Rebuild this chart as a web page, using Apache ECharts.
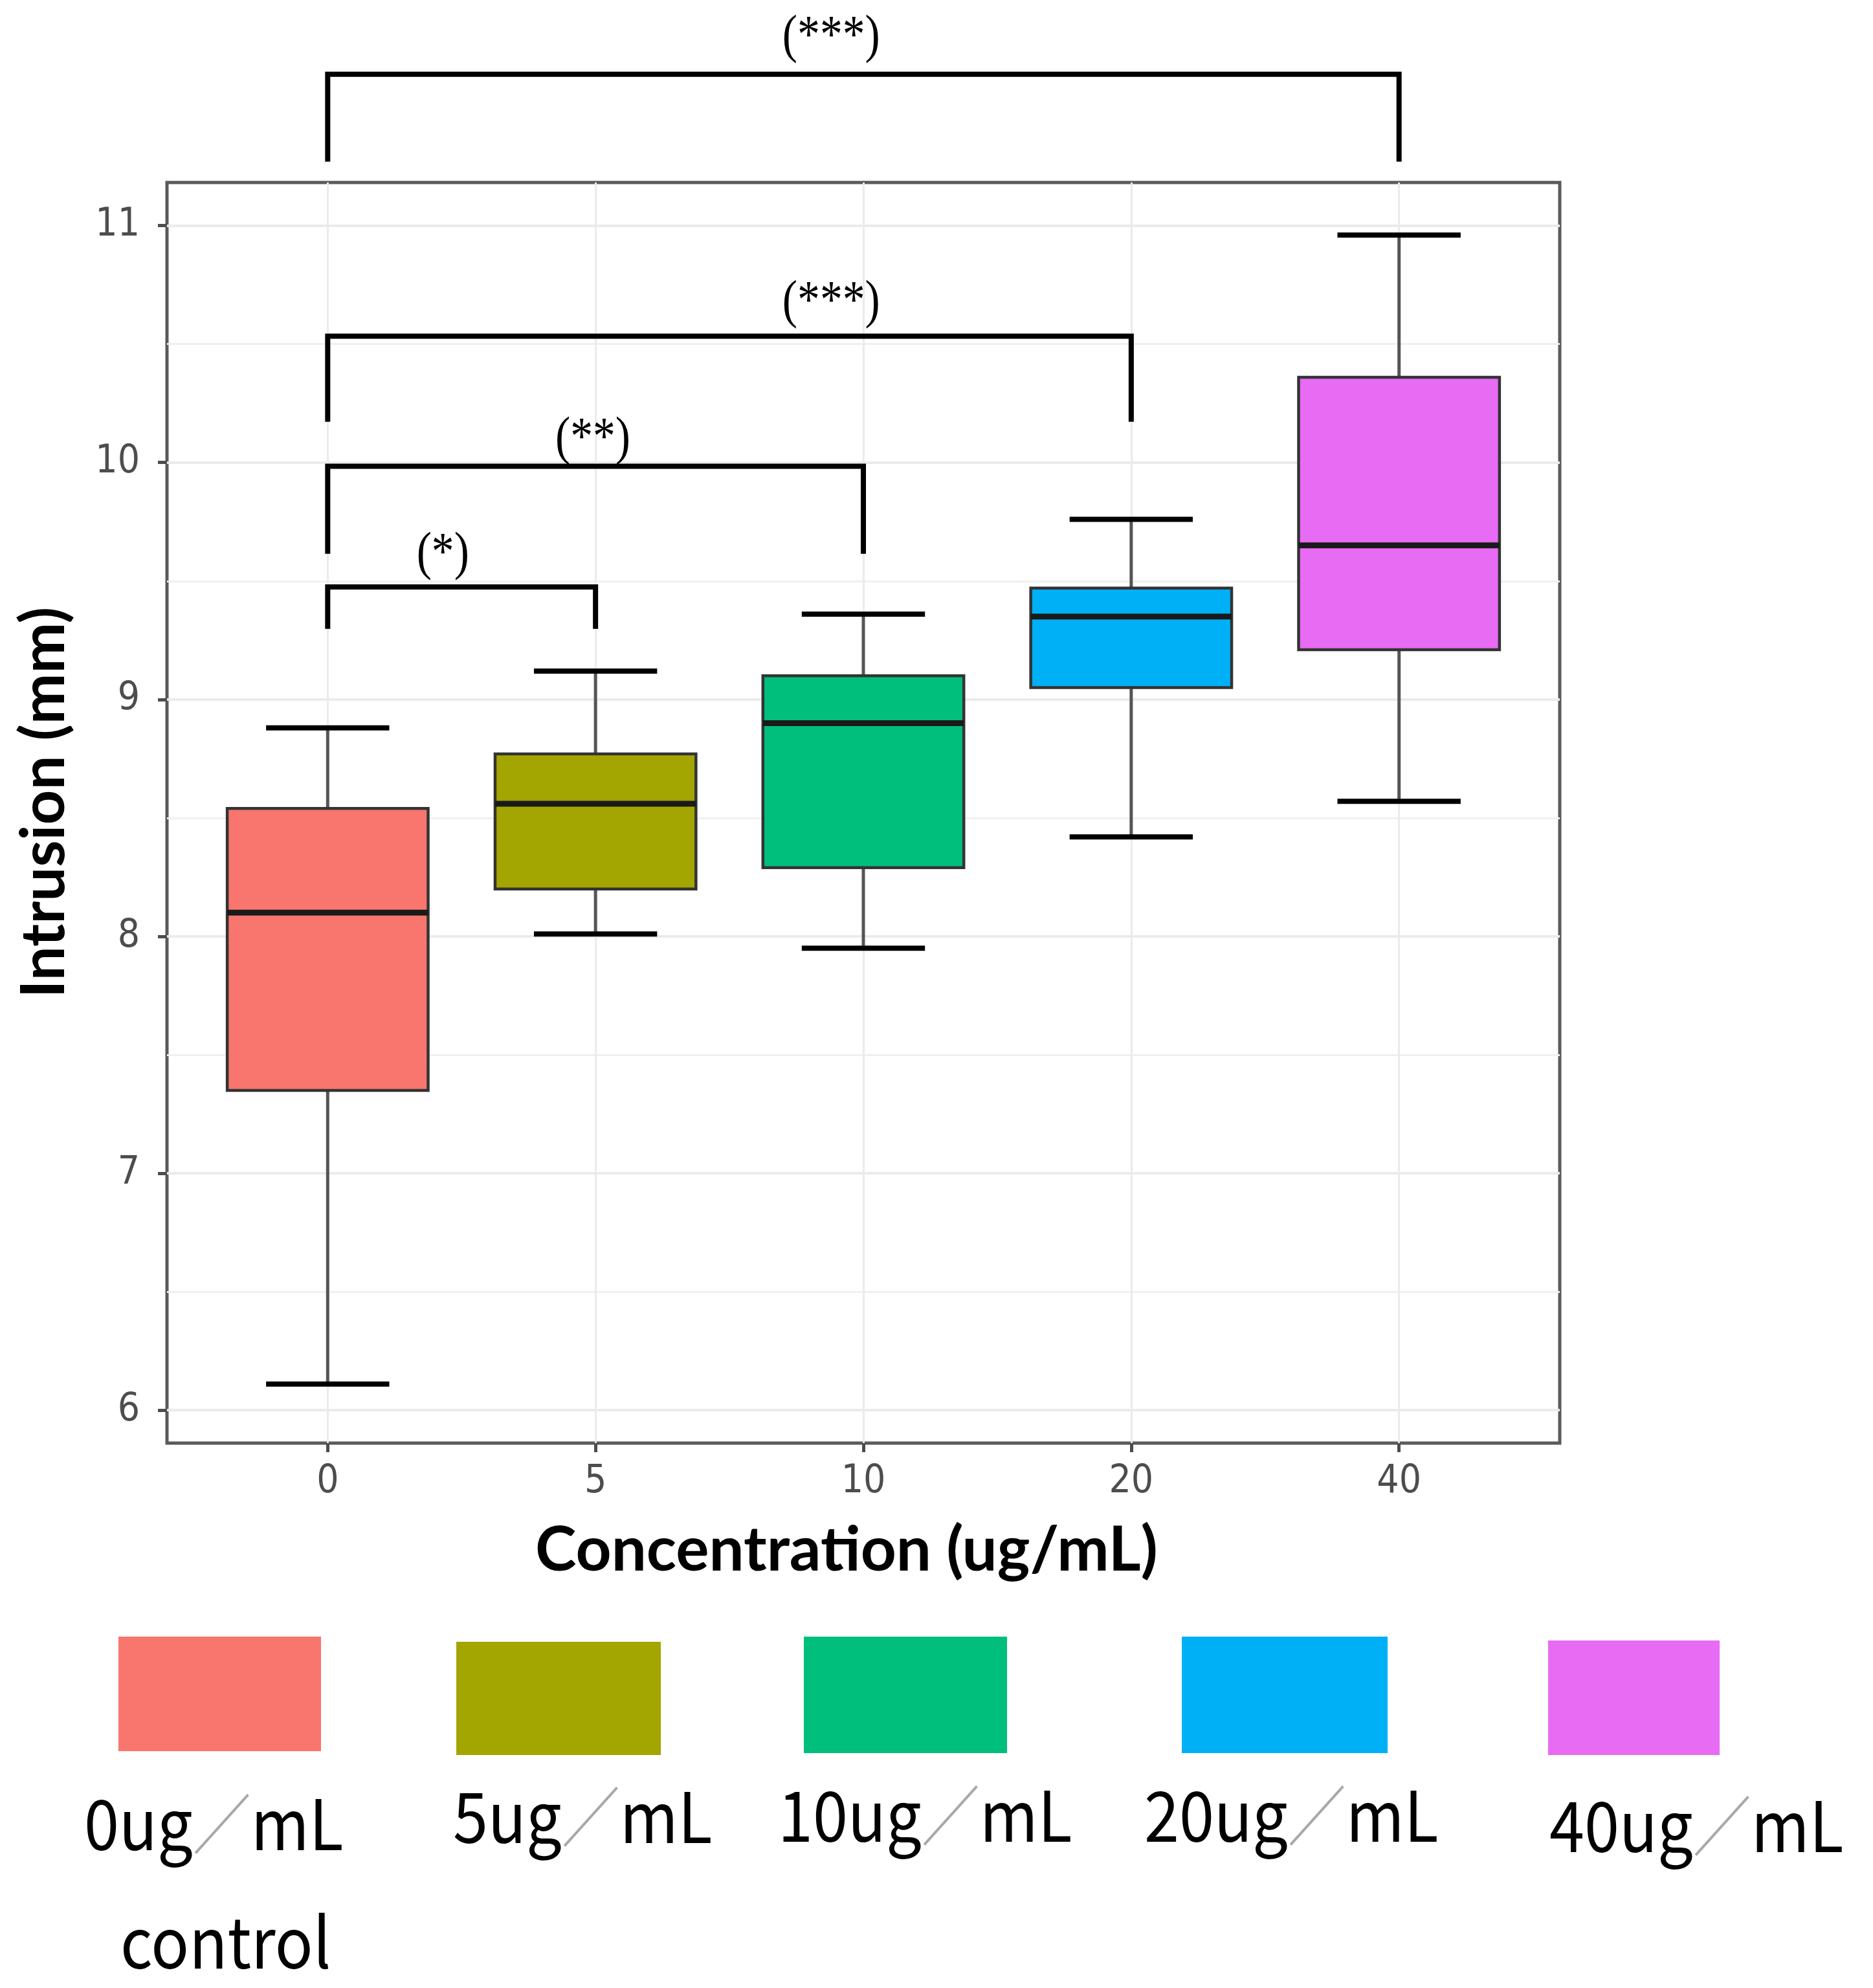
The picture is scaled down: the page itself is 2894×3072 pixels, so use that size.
<!DOCTYPE html>
<html><head><meta charset="utf-8">
<script src="https://cdn.jsdelivr.net/npm/echarts@6/dist/echarts.min.js"></script>
<style>html,body{margin:0;padding:0;background:#fff}#chart{width:2894px;height:3072px}</style>
</head><body><div id="chart"></div>
<script>
// ---- data ----
const categories = ['0', '5', '10', '20', '40'];
const lowerWhisker = [6.11, 8.01, 7.95, 8.42, 8.57];
const q1 = [7.35, 8.20, 8.29, 9.05, 9.21];
const median = [8.10, 8.56, 8.90, 9.35, 9.65];
const q3 = [8.54, 8.77, 9.10, 9.47, 10.36];
const upperWhisker = [8.88, 9.12, 9.36, 9.76, 10.96];
const groupColors = ['#F8766D', '#A3A500', '#00BF7D', '#00B0F6', '#E76BF3'];
const legendLabels = ['0ug{s|／}mL', '5ug{s|／}mL', '10ug{s|／}mL', '20ug{s|／}mL', '40ug{s|／}mL'];
const legendSubLabels = ['control', '', '', '', ''];
const yTicks = [6, 7, 8, 9, 10, 11];
const yMinorTicks = [6.5, 7.5, 8.5, 9.5, 10.5];
const xTicks = [0, 1, 2, 3, 4];
const bracketFrom = [0, 0, 0, 0];
const bracketTo = [1, 2, 3, 4];
const bracketLevel = [9.475, 9.984, 10.533, 11.639];
const bracketLegEnd = [9.298, 9.615, 10.172, 11.27];
const bracketLabels = ['(*)', '(**)', '(***)', '(***)'];
const bracketLabelX = [0.43, 0.99, 1.88, 1.88];
const bracketLabelY = [9.609, 10.096, 10.672, 11.792];

// ---- chart ----
const chart = echarts.init(document.getElementById('chart'), null, {renderer: 'canvas'});
const tickFont = "'Liberation Sans Narrow', 'DejaVu Sans Condensed', 'Roboto', sans-serif";
const titleFont = "Lato, 'Open Sans', sans-serif";

const boxData = categories.map((c, i) => [i, lowerWhisker[i], q1[i], median[i], q3[i], upperWhisker[i]]);
const bracketData = bracketLabels.map((l, k) => [bracketFrom[k], bracketTo[k], bracketLevel[k], bracketLegEnd[k], bracketLabelX[k], bracketLabelY[k]]);

function renderBox(params, api) {
  const i = api.value(0);
  const lo = api.coord([i, api.value(1)]);
  const b1 = api.coord([i, api.value(2)]);
  const md = api.coord([i, api.value(3)]);
  const b3 = api.coord([i, api.value(4)]);
  const hi = api.coord([i, api.value(5)]);
  const halfBox = api.size([0.75, 0])[0] / 2;
  const halfCap = api.size([0.46, 0])[0] / 2;
  const cx = lo[0];
  return {
    type: 'group',
    children: [
      {type: 'line', shape: {x1: cx, y1: lo[1], x2: cx, y2: b1[1]}, style: {stroke: '#555555', lineWidth: 5}},
      {type: 'line', shape: {x1: cx, y1: b3[1], x2: cx, y2: hi[1]}, style: {stroke: '#555555', lineWidth: 5}},
      {type: 'rect', shape: {x: cx - halfBox, y: b3[1], width: halfBox * 2, height: b1[1] - b3[1]},
        style: {fill: groupColors[params.dataIndex], stroke: '#333333', lineWidth: 4.5}},
      {type: 'line', shape: {x1: cx - halfBox, y1: md[1], x2: cx + halfBox, y2: md[1]}, style: {stroke: '#1a1a1a', lineWidth: 9}},
      {type: 'line', shape: {x1: cx - halfCap, y1: lo[1], x2: cx + halfCap, y2: lo[1]}, style: {stroke: '#000000', lineWidth: 8}},
      {type: 'line', shape: {x1: cx - halfCap, y1: hi[1], x2: cx + halfCap, y2: hi[1]}, style: {stroke: '#000000', lineWidth: 8}}
    ]
  };
}

function renderBracket(params, api) {
  const a = api.value(0), b = api.value(1), lev = api.value(2), leg = api.value(3);
  const pA = api.coord([a, lev]), pB = api.coord([b, lev]);
  const lA = api.coord([a, leg]), lB = api.coord([b, leg]);
  const t = api.coord([api.value(4), api.value(5)]);
  return {
    type: 'group',
    children: [
      {type: 'polyline', shape: {points: [lA, pA, pB, lB]}, style: {stroke: '#000', lineWidth: 8, fill: null, lineJoin: 'miter'}},
      {type: 'text', x: t[0], y: t[1], scaleX: 0.85,
        style: {text: bracketLabels[params.dataIndex], fill: '#000', align: 'center', verticalAlign: 'middle',
          font: "82px 'Liberation Serif', 'DejaVu Serif', serif"}}
    ]
  };
}

// legend drawn as graphic elements (layout only, labels/colors from arrays)
const swatchBoxes = [[183, 2529, 313, 177], [705, 2537, 316, 175], [1242, 2529, 314, 180], [1826, 2529, 318, 180], [2392, 2535, 265, 177]];
const labelAnchors = [[130, 2818], [700, 2807], [1202, 2805], [1768, 2805], [2394, 2821]];
const subAnchors = [[186, 3001]];
const graphics = [];
groupColors.forEach((col, i) => {
  const r = swatchBoxes[i];
  graphics.push({type: 'rect', left: r[0], top: r[1], shape: {width: r[2], height: r[3]}, style: {fill: col}, silent: true});
  graphics.push({type: 'text', x: labelAnchors[i][0], y: labelAnchors[i][1], scaleX: 0.9,
    style: {text: legendLabels[i], fill: '#000', align: 'left', verticalAlign: 'middle',
      font: "108px 'Noto Sans CJK JP', sans-serif",
      rich: {s: {fill: '#a8a8a8', font: "100px 'Noto Sans CJK JP', sans-serif"}}}, silent: true});
  if (legendSubLabels[i]) {
    graphics.push({type: 'text', x: subAnchors[i][0], y: subAnchors[i][1], scaleX: 0.9,
      style: {text: legendSubLabels[i], fill: '#000', align: 'left', verticalAlign: 'middle',
        font: "108px 'Noto Sans CJK JP', sans-serif"}, silent: true});
  }
});

const option = {
  animation: false,
  backgroundColor: '#ffffff',
  grid: {left: 258, top: 282, right: 484, bottom: 842, show: true, borderColor: '#5a5a5a', borderWidth: 5, backgroundColor: 'transparent'},
  xAxis: {
    type: 'value', min: -0.6, max: 4.6,
    name: 'Concentration (ug/mL)', nameLocation: 'middle', nameGap: 118,
    nameTextStyle: {fontFamily: titleFont, fontWeight: 'bold', fontSize: 96, color: '#000', padding: [0, 52, 0, 0]},
    axisLine: {show: false, onZero: false},
    axisTick: {show: true, length: 14, lineStyle: {color: '#4d4d4d', width: 5}, customValues: xTicks},
    axisLabel: {show: true, margin: 30, fontFamily: tickFont, fontSize: 60, color: '#4d4d4d',
      customValues: xTicks, formatter: v => categories[Math.round(v)]},
    splitLine: {show: true, lineStyle: {color: '#ebebeb', width: 3}}
  },
  yAxis: [{
    type: 'value', min: 5.861, max: 11.182,
    name: 'Intrusion (mm)', nameLocation: 'middle', nameRotate: 90, nameGap: 142,
    nameTextStyle: {fontFamily: titleFont, fontWeight: 'bold', fontSize: 94, color: '#000', padding: [0, 0, 0, 32]},
    axisLine: {show: false, onZero: false},
    axisTick: {show: true, length: 14, lineStyle: {color: '#4d4d4d', width: 5}, customValues: yTicks},
    axisLabel: {show: true, margin: 42, fontFamily: tickFont, fontSize: 60, color: '#4d4d4d', customValues: yTicks},
    splitLine: {show: true, lineStyle: {color: '#ebebeb', width: 4}}
  }, {
    type: 'value', min: 5.861, max: 11.182, position: 'left',
    axisLine: {show: false, onZero: false},
    axisTick: {show: false, customValues: yMinorTicks},
    axisLabel: {show: false, customValues: yMinorTicks},
    splitLine: {show: true, lineStyle: {color: '#f0f0f0', width: 3}}
  }],
  series: [{
    type: 'custom', name: 'box', data: boxData, renderItem: renderBox,
    encode: {x: 0, y: [1, 2, 3, 4, 5]}, clip: false, z: 3
  }, {
    type: 'custom', name: 'brackets', data: bracketData, renderItem: renderBracket,
    encode: {x: [0, 1, 4], y: [2, 3, 5]}, clip: false, z: 4
  }],
  graphic: graphics
};
chart.setOption(option);
</script></body></html>
